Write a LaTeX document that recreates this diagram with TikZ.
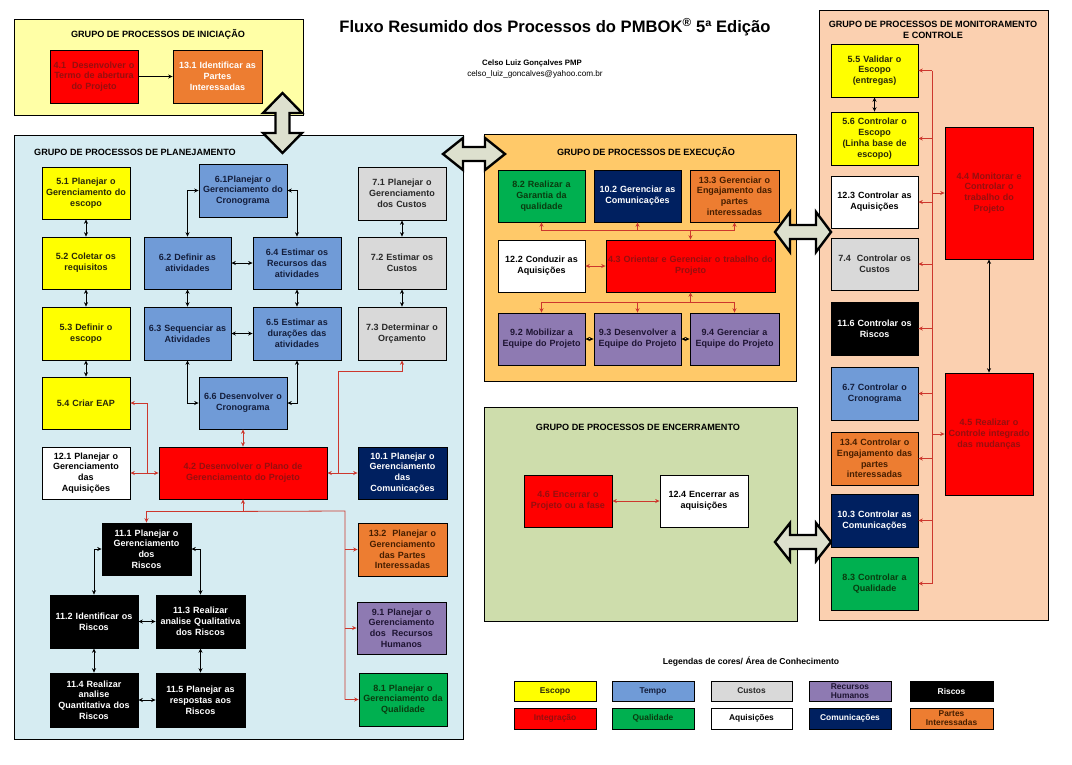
\documentclass[tikz,border=0pt]{standalone}
\usepackage{fontspec}
\setmainfont{Liberation Sans}
\usetikzlibrary{arrows.meta,calc}
\definecolor{cyel}{RGB}{255,255,0}
\definecolor{tyel}{RGB}{40,40,10}
\definecolor{cblu}{RGB}{112,155,215}
\definecolor{tblu}{RGB}{20,30,60}
\definecolor{cgry}{RGB}{217,217,217}
\definecolor{tgry}{RGB}{40,40,40}
\definecolor{cpur}{RGB}{142,122,178}
\definecolor{tpur}{RGB}{30,20,50}
\definecolor{cred}{RGB}{255,0,0}
\definecolor{tred}{RGB}{150,15,15}
\definecolor{cgrn}{RGB}{0,176,80}
\definecolor{tgrn}{RGB}{10,60,15}
\definecolor{cnav}{RGB}{0,32,96}
\definecolor{cora}{RGB}{237,125,49}
\definecolor{tora}{RGB}{70,30,0}
\definecolor{gini}{RGB}{255,255,166}
\definecolor{gpla}{RGB}{214,236,242}
\definecolor{gexe}{RGB}{255,201,105}
\definecolor{genc}{RGB}{206,221,172}
\definecolor{gmon}{RGB}{251,208,176}
\definecolor{rln}{RGB}{205,55,45}
\definecolor{barr}{RGB}{221,224,206}
\tikzset{
  >={Stealth[length=4.4pt,width=4pt]},
  pbox/.style={draw=black,line width=0.8pt,inner sep=0pt,align=center,font=\bfseries\fontsize{9}{10.8}\selectfont},
  lbox/.style={draw=black,line width=1pt,inner sep=0pt,align=center,font=\bfseries\fontsize{8.4}{9}\selectfont},
  fy/.style={fill=cyel,text=tyel},
  fb/.style={fill=cblu,text=tblu},
  fg/.style={fill=cgry,text=tgry},
  fp/.style={fill=cpur,text=tpur},
  fr/.style={fill=cred,text=tred},
  fgr/.style={fill=cgrn,text=tgrn},
  fn/.style={fill=cnav,text=white},
  fo/.style={fill=cora,text=tora},
  fow/.style={fill=cora,text=white},
  fw/.style={fill=white,text=black},
  fk/.style={fill=black,text=white},
  grp/.style={draw=black,line width=0.8pt},
  gtitle/.style={font=\bfseries\fontsize{9.1}{10.6}\selectfont,inner sep=0pt},
  kl/.style={draw=black,line width=0.7pt},
  rl/.style={draw=rln,line width=0.8pt},
  bigarr/.style={draw=black,fill=barr,line width=2.4pt,line join=miter},
}
\newcommand\pb[7]{%
 \pgfmathsetmacro\pbW{#5-#3}%
 \pgfmathsetmacro\pbH{#6-#4}%
 \pgfmathsetmacro\pbX{(#3+#5)/2}%
 \pgfmathsetmacro\pbY{(#4+#6)/2}%
 \pgfmathsetmacro\pbT{#5-#3-4}%
 \node[pbox,#2,minimum width=\pbW pt,minimum height=\pbH pt,text width=\pbT pt] (#1) at (\pbX,\pbY) {#7};}
\newcommand\lb[7]{%
 \pgfmathsetmacro\pbW{#5-#3}%
 \pgfmathsetmacro\pbH{#6-#4}%
 \pgfmathsetmacro\pbX{(#3+#5)/2}%
 \pgfmathsetmacro\pbY{(#4+#6)/2}%
 \pgfmathsetmacro\pbT{#5-#3-4}%
 \node[lbox,#2,minimum width=\pbW pt,minimum height=\pbH pt,text width=\pbT pt] (#1) at (\pbX,\pbY) {#7};}
\newcommand\gp[6]{%
 \pgfmathsetmacro\pbW{#5-#3}%
 \pgfmathsetmacro\pbH{#6-#4}%
 \pgfmathsetmacro\pbX{(#3+#5)/2}%
 \pgfmathsetmacro\pbY{(#4+#6)/2}%
 \node[grp,fill=#2,minimum width=\pbW pt,minimum height=\pbH pt,inner sep=0pt] (#1) at (\pbX,\pbY) {};}
% horizontal double block arrow: cx cy L W H S
\newcommand\harrow[6]{\begin{scope}[shift={(#1,#2)}]
\draw[bigarr] (-#3,0) -- (-#3+#5,-#4) -- (-#3+#5,-#6) -- (#3-#5,-#6) -- (#3-#5,-#4) -- (#3,0) -- (#3-#5,#4) -- (#3-#5,#6) -- (-#3+#5,#6) -- (-#3+#5,#4) -- cycle;
\end{scope}}
\newcommand\varrow[6]{\begin{scope}[shift={(#1,#2)}]
\draw[bigarr] (0,-#3) -- (-#4,-#3+#5) -- (-#6,-#3+#5) -- (-#6,#3-#5) -- (-#4,#3-#5) -- (0,#3) -- (#4,#3-#5) -- (#6,#3-#5) -- (#6,-#3+#5) -- (#4,-#3+#5) -- cycle;
\end{scope}}
\begin{document}
\begin{tikzpicture}[x=1pt,y=-1pt]
\useasboundingbox (0,0) rectangle (1072,764);
\fill[white] (0,0) rectangle (1072,764);

% ---------- groups ----------
\gp{gI}{gini}{14}{19}{303}{115}
\gp{gP}{gpla}{14}{135}{463}{739}
\gp{gE}{gexe}{484}{134}{796}{381}
\gp{gC}{genc}{484}{407}{797}{621}
\gp{gM}{gmon}{819}{10}{1048}{620}

% ---------- titles ----------
\node[font=\bfseries\fontsize{16.6}{18}\selectfont,inner sep=0pt] (title) at (555,27) {Fluxo Resumido dos Processos do PMBOK\textsuperscript{®} 5ª Edição};
\node[font=\bfseries\fontsize{7.8}{9}\selectfont,inner sep=0pt] (author) at (532,63) {Celso Luiz Gonçalves PMP};
\node[font=\fontsize{8.2}{9}\selectfont,inner sep=0pt] (mail) at (535,74) {celso\_luiz\_goncalves@yahoo.com.br};

\node[gtitle] (tI) at (158,34) {GRUPO DE PROCESSOS DE INICIAÇÃO};
\node[gtitle,anchor=west] (tP) at (34,152) {GRUPO DE PROCESSOS DE PLANEJAMENTO};
\node[gtitle] (tE) at (646,152) {GRUPO DE PROCESSOS DE EXECUÇÃO};
\node[gtitle] (tC) at (638,427) {GRUPO DE PROCESSOS DE ENCERRAMENTO};
\node[gtitle,align=center] (tM) at (933,30) {GRUPO DE PROCESSOS DE MONITORAMENTO\\E CONTROLE};

% ---------- big arrows ----------
\varrow{282.5}{123}{30}{19.5}{20}{7}
\harrow{474}{154}{31}{16}{20}{7}
\harrow{803}{232}{28}{20}{15}{7}
\harrow{803}{542}{28}{19}{15}{7}

% ---------- initiation ----------
\pb{n41}{fr}{50}{50}{138}{103}{4.1\ \ Desenvolver o\\Termo de abertura\\do Projeto}
\pb{n131}{fow}{173}{50}{262}{103}{13.1 Identificar as\\Partes\\Interessadas}
\draw[kl,->] (n41) -- (n131);

% ---------- planning ----------
\pb{n51}{fy}{42}{167}{130}{219}{5.1 Planejar o\\Gerenciamento do\\escopo}
\pb{n52}{fy}{42}{237}{130}{289}{5.2 Coletar os\\requisitos}
\pb{n53}{fy}{42}{307}{130}{360}{5.3 Definir o\\escopo}
\pb{n54}{fy}{42}{377}{130}{429}{5.4 Criar EAP}
\pb{n61}{fb}{199}{164}{287}{217}{6.1Planejar o\\Gerenciamento do\\Cronograma}
\pb{n62}{fb}{144}{237}{231}{289}{6.2 Definir as\\atividades}
\pb{n64}{fb}{253}{237}{341}{289}{6.4 Estimar os\\Recursos das\\atividades}
\pb{n63}{fb}{144}{307}{231}{360}{6.3 Sequenciar as\\Atividades}
\pb{n65}{fb}{253}{307}{341}{360}{6.5 Estimar as\\durações das\\atividades}
\pb{n66}{fb}{199}{377}{287}{429}{6.6 Desenvolver o\\Cronograma}
\pb{n71}{fg}{358}{167}{446}{220}{7.1 Planejar o\\Gerenciamento\\dos Custos}
\pb{n72}{fg}{358}{237}{446}{289}{7.2 Estimar os\\Custos}
\pb{n73}{fg}{358}{307}{446}{360}{7.3 Determinar o\\Orçamento}
\pb{n121}{fw}{42}{447}{130}{499}{12.1 Planejar o\\Gerenciamento\\das\\Aquisições}
\pb{n42}{fr}{159}{447}{327}{499}{4.2 Desenvolver o Plano de\\Gerenciamento do Projeto}
\pb{n101}{fn}{358}{447}{447}{499}{10.1 Planejar o\\Gerenciamento\\das\\Comunicações}
\pb{n111}{fk}{102}{523}{191}{575}{11.1 Planejar o\\Gerenciamento\\dos\\Riscos}
\pb{n112}{fk}{50}{595}{138}{648}{11.2 Identificar os\\Riscos}
\pb{n113}{fk}{156}{595}{245}{648}{11.3 Realizar\\analise Qualitativa\\dos Riscos}
\pb{n114}{fk}{50}{673}{138}{727}{11.4 Realizar\\analise\\Quantitativa dos\\Riscos}
\pb{n115}{fk}{156}{673}{245}{727}{11.5 Planejar as\\respostas aos\\Riscos}
\pb{n132}{fo}{358}{523}{447}{576}{13.2\ \ Planejar o\\Gerenciamento\\das Partes\\Interessadas}
\pb{n91}{fp}{357}{602}{446}{654}{9.1 Planejar o\\Gerenciamento\\dos\ \ Recursos\\Humanos}
\pb{n81}{fgr}{359}{673}{447}{726}{8.1 Planejar o\\Gerenciamento da\\Qualidade}

% black planning connectors
\draw[kl,<->] (n51) -- (n52);
\draw[kl,<->] (n52) -- (n53);
\draw[kl,<->] (n53) -- (n54);
\draw[kl,<->] (n61.west) -| (n62.north);
\draw[kl,<->] (n61.east) -| (n64.north);
\draw[kl,<->] (n62) -- (n64);
\draw[kl,<->] (n62) -- (n63);
\draw[kl,<->] (n64) -- (n65);
\draw[kl,<->] (n63) -- (n65);
\draw[kl,<->] (n63.south) |- (n66.west);
\draw[kl,<->] (n65.south) |- (n66.east);
\draw[kl,<->] (n71) -- (n72);
\draw[kl,<->] (n72) -- (n73);
\draw[kl,<->] (n111.west) -| (n112.north);
\draw[kl,<->] (n111.east) -| (n113.north);
\draw[kl,<->] (n112) -- (n113);
\draw[kl,<->] (n112) -- (n114);
\draw[kl,<->] (n113) -- (n115);
\draw[kl,<->] (n114) -- (n115);

% red planning connectors
\draw[rl,<->] (n66) -- (n42);
\draw[rl,<->] (n121) -- (n42);
\coordinate (j1) at (147,473);
\draw[rl,->] (j1) |- (n54.east);
\draw[rl,<->] (n42) -- (n101);
\coordinate (j2) at (338,473);
\draw[rl,->] (j2) -- (j2 |- 0,371) -| (n73.south);
\draw[rl,<-] (n42.south) -- ++(0,12) coordinate (j3);
\draw[rl,->] (j3) -| (n111.north);
\coordinate (b1) at (345,511);
\draw[rl] (j3) -- (b1) -- (b1 |- n81.west);
\draw[rl,->] (b1 |- n132.west) -- (n132.west);
\draw[rl,->] (b1 |- n91.west) -- (n91.west);
\draw[rl,->] (b1 |- n81.west) -- (n81.west);

% ---------- execution ----------
\pb{n82}{fgr}{498}{170}{585}{222}{8.2 Realizar a\\Garantia da\\qualidade}
\pb{n102}{fn}{594}{170}{681}{222}{10.2 Gerenciar as\\Comunicações}
\pb{n133}{fo}{690}{170}{779}{222}{13.3 Gerenciar o\\Engajamento das\\partes\\interessadas}
\pb{n122}{fw}{498}{240}{585}{292}{12.2 Conduzir as\\Aquisições}
\pb{n43}{fr}{606}{240}{775}{292}{4.3 Orientar e Gerenciar o trabalho do\\Projeto}
\pb{n92}{fp}{498}{313}{585}{365}{9.2 Mobilizar a\\Equipe do Projeto}
\pb{n93}{fp}{594}{313}{681}{365}{9.3 Desenvolver a\\Equipe do Projeto}
\pb{n94}{fp}{690}{313}{779}{365}{9.4 Gerenciar a\\Equipe do Projeto}

\draw[rl,<->] (n82.south) -- ++(0,8) -| (n133.south);
\draw[rl,<-] (n102.south) -- ++(0,8);
\draw[rl,->] (n43.north) ++(0,-10) -- (n43.north);
\draw[rl,<->] (n122) -- (n43);
\draw[rl,<-] (n43.south) -- ++(0,10) coordinate (j4);
\draw[rl,->] (j4) -| (n92.north);
\draw[rl,->] (j4) -| (n94.north);
\draw[rl,->] (n93.north) ++(0,-11) -- (n93.north);
\draw[kl,<->,line width=1pt] (n92) -- (n93);
\draw[kl,<->,line width=1pt] (n93) -- (n94);

% ---------- closing ----------
\pb{n46}{fr}{524}{475}{612}{527}{4.6 Encerrar o\\Projeto ou a fase}
\pb{n124}{fw}{660}{475}{748}{527}{12.4 Encerrar as\\aquisições}
\draw[rl,<->] (n46) -- (n124);

% ---------- monitoring ----------
\pb{n55}{fy}{831}{44}{918}{97}{5.5 Validar o\\Escopo\\(entregas)}
\pb{n56}{fy}{831}{112}{918}{165}{5.6 Controlar o\\Escopo\\(Linha base de\\escopo)}
\pb{n123}{fw}{831}{176}{918}{228}{12.3 Controlar as\\Aquisições}
\pb{n74}{fg}{831}{238}{918}{290}{7.4\ \ Controlar os\\Custos}
\pb{n116}{fk}{831}{302}{918}{355}{11.6 Controlar os\\Riscos}
\pb{n67}{fb}{831}{367}{918}{420}{6.7 Controlar o\\Cronograma}
\pb{n134}{fo}{831}{432}{918}{485}{13.4 Controlar o\\Engajamento das\\partes\\interessadas}
\pb{n103}{fn}{831}{494}{918}{547}{10.3 Controlar as\\Comunicações}
\pb{n83}{fgr}{831}{557}{918}{610}{8.3 Controlar a\\Qualidade}
\pb{n44}{fr}{945}{127}{1033}{259}{4.4 Monitorar e\\Controlar o\\trabalho do\\Projeto}
\pb{n45}{fr}{945}{373}{1033}{495}{4.5 Realizar o\\Controle integrado\\das mudanças}

\coordinate (mx) at (932,0);
\draw[rl] (mx |- n55.east) -- (mx |- n83.east);
\foreach \n in {n55,n56,n123,n74,n116,n67,n134,n103,n83}
  \draw[rl,->] (mx |- \n.east) -- (\n.east);
\draw[rl,->] (mx |- n44.west) -- (n44.west);
\draw[rl,->] (mx |- n45.west) -- (n45.west);
\draw[kl,<->] (n44) -- (n45);
\draw[kl,<->,line width=1pt] (n55) -- (n56);

% ---------- legend ----------
\node[font=\bfseries\fontsize{8.6}{10}\selectfont,inner sep=0pt] (legt) at (751,662) {Legendas de cores/ Área de Conhecimento};
\lb{l1}{fy}{514}{681}{596}{701}{Escopo}
\lb{l2}{fb}{612}{681}{694}{701}{Tempo}
\lb{l3}{fg}{711}{681}{792}{701}{Custos}
\lb{l4}{fp}{809}{681}{891}{701}{Recursos\\Humanos}
\lb{l5}{fk}{910}{681}{993}{701}{Riscos}
\lb{l6}{fr}{514}{708}{596}{729}{Integração}
\lb{l7}{fgr}{612}{708}{694}{729}{Qualidade}
\lb{l8}{fw}{711}{708}{792}{729}{Aquisições}
\lb{l9}{fn}{809}{708}{891}{729}{Comunicações}
\lb{l10}{fo}{910}{708}{993}{729}{Partes\\Interessadas}
\end{tikzpicture}
\end{document}
